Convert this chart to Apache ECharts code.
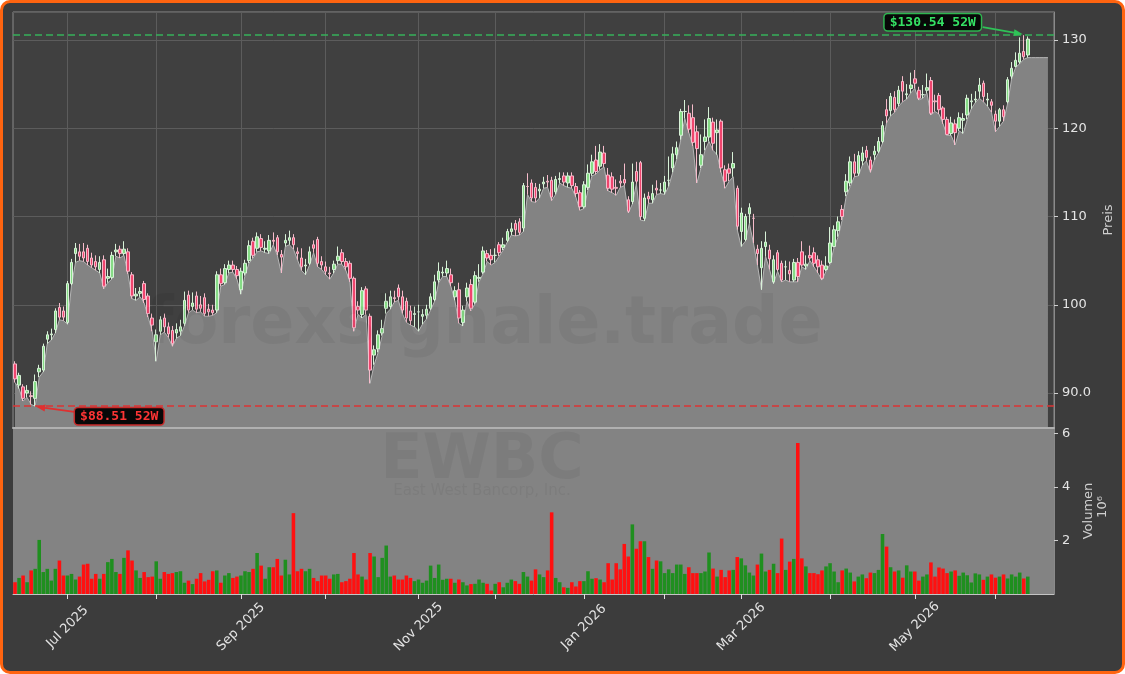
<!DOCTYPE html>
<html><head><meta charset="utf-8">
<script src="https://cdn.jsdelivr.net/npm/echarts@6/dist/echarts.min.js"></script>
<style>
html,body{margin:0;padding:0;background:#fff;}
#frame{position:absolute;left:0;top:0;width:1125px;height:674px;box-sizing:border-box;border:3px solid #ff6410;border-radius:10px;background:#3c3c3c;}
#chart{position:absolute;left:0;top:0;width:1125px;height:674px;}
</style></head><body>
<div id="frame"></div><div id="chart"></div>
<script>
// ---- categories ----
const startDate = '2025-06-11';
const holidays = ['2025-06-19','2025-07-04','2025-09-01','2025-11-27','2025-12-25','2026-01-01','2026-01-19','2026-02-16','2026-04-03','2026-05-25','2026-06-19'];
const categoryCount = 258;
const monthNames = ['Jan','Feb','Mar','Apr','May','Jun','Jul','Aug','Sep','Oct','Nov','Dec'];

// ---- series values ----
const opens = [
93.3,90.9,90.7,90.0,89.7,89.4,92.4,92.6,96.1,96.6,
97.2,99.7,99.3,98.0,102.4,105.8,106.0,106.0,106.4,105.3,
104.9,104.0,105.1,103.0,103.1,106.0,106.3,105.8,106.0,103.4,
101.0,101.3,102.4,101.0,98.5,95.8,97.0,98.5,97.5,97.1,
96.8,97.0,97.9,101.1,99.8,101.0,100.0,100.8,99.5,99.4,
99.4,103.4,102.5,104.0,104.5,104.0,101.7,103.6,105.0,107.2,
106.4,107.5,106.3,106.1,107.3,107.6,105.7,107.0,107.3,107.6,
106.0,105.3,104.4,104.7,106.8,107.4,104.9,104.3,103.6,104.0,
105.0,105.9,104.9,104.7,103.0,99.8,98.9,101.8,98.7,94.3,
95.0,96.8,99.6,99.8,100.8,101.9,100.9,100.4,99.3,98.9,
99.2,98.7,98.8,99.6,100.6,102.8,103.6,103.6,103.4,100.9,
101.7,98.0,100.9,102.3,100.3,103.0,103.7,105.8,105.6,105.6,
106.8,106.5,107.3,108.3,109.2,109.4,108.7,113.4,113.8,113.3,
112.9,113.7,114.0,114.1,112.8,114.2,114.6,113.8,114.6,113.4,
112.7,111.1,113.3,114.9,116.4,115.7,117.2,114.7,114.5,113.3,
114.0,114.2,111.9,111.7,115.1,116.1,109.8,112.3,111.9,113.2,
113.0,112.8,114.1,115.5,117.0,119.2,121.9,121.7,121.2,119.6,
115.8,118.5,119.0,120.7,119.5,120.8,115.3,115.4,115.5,113.2,
108.3,107.4,110.3,109.8,106.3,104.2,106.6,106.2,102.6,105.9,
104.7,104.3,103.9,102.8,104.8,106.0,104.4,105.6,105.9,105.1,
104.5,104.0,104.8,106.6,108.4,110.8,112.8,113.8,116.2,114.9,
116.3,117.5,116.4,117.0,117.4,118.5,122.1,122.0,123.5,122.8,
125.3,123.8,124.5,125.6,124.3,123.8,124.3,125.4,123.1,123.7,
122.3,121.0,119.4,120.5,120.0,120.9,121.5,123.0,123.2,124.2,
125.1,123.2,123.0,121.6,120.8,122.1,123.0,125.9,127.0,127.5,
128.7,128.3];
const closes = [
91.6,92.0,89.4,90.3,89.6,91.3,92.8,95.3,96.6,96.7,
99.3,98.6,98.6,102.4,104.8,106.4,105.5,105.3,104.9,104.5,
104.3,104.8,102.1,103.2,105.6,106.2,105.8,106.3,103.8,101.0,
101.2,101.5,100.6,99.0,97.7,96.6,98.3,97.5,96.7,95.6,
97.2,97.5,100.5,99.4,100.2,99.5,99.6,99.0,99.2,99.1,
103.4,102.4,104.1,104.5,104.0,103.3,103.8,104.7,106.7,105.6,
107.7,106.5,106.4,107.3,107.2,106.0,105.4,107.3,107.6,106.8,
105.8,104.3,104.5,106.0,106.4,104.7,104.5,103.8,103.5,104.6,
105.5,104.9,104.3,103.0,97.4,99.4,101.6,99.4,92.6,94.9,
96.6,97.3,100.4,100.9,100.7,100.9,99.4,98.5,98.2,99.0,
99.2,98.9,99.5,100.9,102.6,103.8,103.7,104.1,102.5,101.6,
98.5,99.4,101.9,99.6,103.3,103.1,106.1,105.3,105.1,105.6,
105.9,106.8,108.3,108.6,108.5,108.2,113.5,113.4,112.1,112.1,
113.1,113.9,113.9,112.2,114.2,114.3,113.9,114.6,113.5,112.6,
111.1,113.6,114.9,116.2,115.1,117.3,116.0,113.2,113.1,113.2,
113.8,113.8,110.6,113.9,114.0,110.0,112.1,112.0,112.6,113.0,
113.0,113.9,114.1,117.1,117.8,121.9,121.9,119.9,118.4,117.7,
117.0,119.0,121.1,118.3,119.8,115.5,114.0,114.9,116.0,108.9,
110.4,110.0,111.0,109.8,105.8,106.4,107.1,105.2,105.1,104.0,
102.8,104.3,103.5,104.8,103.2,104.5,104.6,105.3,104.7,104.3,
103.0,104.4,107.0,108.5,109.4,110.0,114.0,116.2,114.9,116.9,
117.2,116.7,115.3,117.4,118.5,120.3,121.4,123.6,122.1,124.3,
124.2,123.9,124.9,125.1,123.4,123.8,124.6,121.7,123.0,122.1,
121.0,119.3,120.6,119.5,121.2,121.1,123.4,123.1,123.3,124.9,
123.6,123.3,122.6,120.8,122.1,121.3,125.5,126.8,127.7,128.5,
128.1,130.1];
const highs = [
93.6,92.3,91.0,90.9,90.2,92.1,93.2,95.6,97.0,97.3,
99.6,100.2,99.8,102.7,105.2,107.0,106.9,107.0,106.8,105.9,
105.6,105.5,105.6,104.1,106.0,106.9,106.7,107.2,106.4,103.7,
101.9,102.0,102.7,101.3,99.0,97.2,98.7,99.0,98.0,97.6,
97.9,98.3,101.5,101.6,101.4,101.5,101.0,101.3,100.1,100.0,
103.8,104.1,104.6,105.0,105.0,104.4,104.2,105.1,107.3,107.6,
108.2,108.0,107.2,107.9,108.2,107.9,106.2,108.0,108.4,108.0,
106.5,106.4,105.2,106.6,107.3,107.7,105.5,104.9,104.3,105.0,
106.6,106.3,105.3,105.0,103.2,100.4,102.0,102.1,99.0,95.4,
97.1,98.3,101.3,101.6,101.6,102.3,101.6,100.8,99.9,99.8,
100.0,99.5,100.0,101.3,103.4,104.8,104.3,105.0,104.1,102.1,
102.5,99.9,102.5,102.9,103.8,104.6,106.6,106.2,106.3,106.4,
107.1,107.6,108.6,109.3,109.6,109.8,113.8,114.9,114.2,113.8,
113.7,114.5,114.7,114.5,114.6,115.0,115.0,115.0,115.0,113.8,
113.0,114.0,115.9,117.0,118.0,118.2,118.0,115.5,115.0,114.2,
114.7,116.0,112.3,116.0,116.2,116.3,112.6,112.8,113.6,114.1,
113.8,114.6,116.8,117.9,118.5,122.2,123.2,122.6,122.7,120.3,
119.3,121.0,122.4,121.2,121.0,121.0,115.8,116.0,117.3,113.5,
111.0,110.3,111.5,110.3,106.8,107.2,108.3,106.8,105.6,106.2,
105.0,105.0,104.9,105.2,105.3,107.2,105.6,106.7,106.5,105.6,
105.0,105.5,108.8,109.0,110.0,111.3,114.8,116.8,117.1,117.4,
117.9,118.0,116.8,118.0,119.0,120.8,123.3,124.0,124.2,124.8,
125.9,125.0,126.3,126.6,124.7,124.9,126.2,125.8,123.8,124.0,
122.5,121.3,121.3,121.0,121.8,121.7,123.8,123.9,124.2,125.7,
125.4,124.0,123.3,122.0,122.3,122.6,125.8,127.5,128.6,130.3,
130.54,130.4];
const lows = [
91.2,90.5,89.1,89.5,88.7,88.51,91.8,92.4,95.6,96.0,
96.8,98.3,98.2,97.8,102.2,104.8,105.0,104.9,104.5,104.2,
103.9,103.6,101.8,102.5,102.9,105.5,105.3,105.6,103.5,100.7,
100.5,100.9,100.2,98.6,97.0,93.6,96.6,96.9,96.3,95.3,
96.2,96.5,97.6,99.1,99.4,99.1,99.2,98.7,98.7,98.8,
99.1,102.1,102.3,103.6,103.7,102.9,101.2,103.3,104.7,105.3,
106.0,106.1,105.9,105.8,106.8,105.6,103.6,106.6,106.8,106.3,
105.1,103.9,103.4,104.5,105.9,104.3,104.0,103.4,102.9,103.6,
104.6,104.6,103.9,102.6,97.0,98.9,98.5,98.9,91.1,93.2,
94.6,96.5,99.0,99.5,100.3,100.5,99.0,98.0,97.7,97.5,
97.0,97.8,98.4,99.4,100.4,102.5,103.2,103.2,102.1,100.5,
97.9,97.6,100.4,99.3,100.1,102.6,103.5,104.9,104.5,104.8,
105.5,106.2,107.1,107.9,107.8,107.9,108.3,112.5,111.7,111.6,
112.1,113.2,113.3,111.8,112.5,113.8,113.5,113.3,113.2,112.2,
110.7,110.9,113.0,114.6,114.8,115.3,115.6,112.9,112.7,112.4,
113.3,113.5,110.4,111.4,113.7,109.6,109.5,111.5,111.5,112.5,
112.6,112.5,113.4,115.0,116.5,118.7,121.1,119.5,118.0,113.8,
115.5,117.5,118.5,117.5,117.0,115.0,113.2,114.0,114.5,108.5,
106.6,107.2,109.2,107.0,104.5,101.7,105.5,104.0,102.4,103.8,
102.6,102.8,102.6,102.6,102.6,104.3,104.0,105.0,104.3,103.6,
102.8,103.8,104.6,106.5,107.7,109.6,112.3,113.4,114.5,114.6,
115.8,116.3,115.0,116.4,117.2,118.3,120.6,121.4,121.8,122.5,
123.0,123.3,124.0,124.5,123.2,123.4,124.0,121.5,121.9,121.6,
120.5,119.2,119.2,118.1,119.7,119.4,121.0,122.2,122.9,123.4,
123.0,122.5,121.8,119.6,120.2,120.8,122.8,125.6,126.9,127.3,
127.8,128.0];
const areaTail = [128.0,128.0,128.0,128.0,128.0];
const volumes = [
0.44,0.60,0.69,0.44,0.88,0.94,2.02,0.82,0.94,0.50,
0.94,1.25,0.69,0.69,0.75,0.54,0.65,1.10,1.13,0.57,
0.75,0.57,0.75,1.19,1.31,0.82,0.75,1.35,1.63,1.25,
0.88,0.60,0.82,0.63,0.65,1.22,0.57,0.82,0.75,0.78,
0.82,0.85,0.42,0.50,0.37,0.57,0.78,0.47,0.53,0.85,
0.88,0.42,0.69,0.78,0.60,0.65,0.69,0.85,0.82,0.94,
1.53,1.06,0.57,1.00,1.00,1.31,0.69,1.28,0.73,3.02,
0.85,0.94,0.85,0.94,0.60,0.48,0.69,0.69,0.57,0.73,
0.75,0.44,0.48,0.57,1.53,0.73,0.65,0.54,1.53,1.40,
0.63,1.35,1.81,0.65,0.69,0.54,0.54,0.69,0.60,0.48,
0.54,0.42,0.50,1.06,0.60,1.10,0.53,0.57,0.57,0.42,
0.54,0.44,0.32,0.37,0.38,0.54,0.42,0.38,0.13,0.38,
0.44,0.25,0.42,0.54,0.48,0.38,0.82,0.65,0.50,0.92,
0.73,0.63,0.88,3.05,0.60,0.44,0.25,0.23,0.44,0.28,
0.48,0.48,0.85,0.57,0.59,0.54,0.44,1.15,0.54,1.15,
0.92,1.87,1.40,2.60,1.69,1.97,1.97,1.38,0.94,1.25,
1.22,0.78,0.92,0.78,1.10,1.10,0.75,1.00,0.78,0.78,
0.78,0.84,1.55,0.95,0.65,0.90,0.63,0.88,0.90,1.38,
1.33,1.07,0.80,0.69,1.10,1.51,0.84,0.90,1.13,0.78,
2.07,0.90,1.21,1.31,5.64,1.33,1.03,0.78,0.78,0.74,
0.88,1.03,1.15,0.84,0.44,0.88,0.95,0.80,0.47,0.65,
0.73,0.59,0.80,0.78,0.90,2.24,1.77,1.00,0.84,0.88,
0.61,1.07,0.84,0.84,0.50,0.65,0.73,1.18,0.65,0.99,
0.95,0.78,0.84,0.88,0.68,0.80,0.70,0.43,0.77,0.73,
0.53,0.65,0.73,0.61,0.65,0.73,0.58,0.73,0.65,0.80,
0.58,0.65];
const high52 = 130.54, high52Index = 250;
const low52 = 88.51, low52Index = 5;
const priceTicks = [90, 100, 110, 120, 130];

// ---- build categories ----
function tradingDays(start, n) {
  const out = []; const d = new Date(start + 'T00:00:00Z');
  while (out.length < n) {
    const wd = d.getUTCDay(); const s = d.toISOString().slice(0, 10);
    if (wd !== 0 && wd !== 6 && holidays.indexOf(s) < 0) out.push(s);
    d.setUTCDate(d.getUTCDate() + 1);
  }
  return out;
}
const dates = tradingDays(startDate, categoryCount);
const isMonthStart = dates.map((s, i) => i > 0 && s.slice(5, 7) !== dates[i - 1].slice(5, 7));
const isLabeled = dates.map((s, i) => isMonthStart[i] && (+s.slice(5, 7)) % 2 === 1);
const monthLines = [];
isMonthStart.forEach((m, i) => { if (m) monthLines.push({ xAxis: i }); });

const UP_VOL = '#1f8f1f', DOWN_VOL = '#ff1010';
const FONT = '"DejaVu Sans", sans-serif';
const TXT = '#e4e4e4';
const WM = 'rgba(0,0,0,0.05)';

const chart = echarts.init(document.getElementById('chart'), null, { renderer: 'canvas' });
const option = {
  backgroundColor: 'transparent',
  animation: false,
  grid: [
    { left: 13, top: 12, width: 1041, height: 416, show: true, backgroundColor: '#404040', borderColor: '#8a8a8a', borderWidth: 1, containLabel: false },
    { left: 13, top: 428, width: 1041, height: 166, show: true, backgroundColor: '#838383', borderWidth: 0, containLabel: false }
  ],
  xAxis: [
    { type: 'category', gridIndex: 0, data: dates, boundaryGap: true, z: 10,
      axisLine: { show: true, lineStyle: { color: '#b0b0b0', width: 2 } },
      axisTick: { show: false }, axisLabel: { show: false }, splitLine: { show: false } },
    { type: 'category', gridIndex: 1, data: dates, boundaryGap: true, z: 10,
      axisLine: { show: true, lineStyle: { color: '#c4c4c4', width: 1 } },
      axisTick: { show: true, alignWithLabel: true, length: 5, interval: (i) => isMonthStart[i], lineStyle: { color: '#e0e0e0' } },
      axisLabel: { show: true, interval: (i) => isLabeled[i], rotate: 45, align: 'center', verticalAlign: 'middle', margin: 33,
        color: TXT, fontSize: 13, fontFamily: FONT,
        formatter: (v) => monthNames[+v.slice(5, 7) - 1] + ' ' + v.slice(0, 4) },
      splitLine: { show: false } }
  ],
  yAxis: [
    { type: 'value', gridIndex: 0, position: 'right', min: 86.04, max: 133.17,
      axisLine: { show: true, lineStyle: { color: '#8a8a8a' } },
      axisTick: { show: true, length: 4, lineStyle: { color: '#d0d0d0' } },
      axisLabel: { color: TXT, fontSize: 13, fontFamily: FONT, margin: 8, showMinLabel: false, showMaxLabel: false,
        formatter: (v) => priceTicks.indexOf(v) < 0 ? '' : (v === 90 ? '90.0' : String(v)) },
      splitLine: { show: true, lineStyle: { color: '#5c5c5c', width: 1 } },
      name: 'Preis', nameLocation: 'middle', nameGap: 48, nameRotate: 90,
      nameTextStyle: { color: '#cfcfcf', fontSize: 13, fontFamily: FONT } },
    { type: 'value', gridIndex: 1, position: 'right', min: 0, max: 6.2, interval: 2,
      axisLine: { show: true, lineStyle: { color: '#8a8a8a' } },
      axisTick: { show: true, length: 4, lineStyle: { color: '#d0d0d0' } },
      axisLabel: { color: TXT, fontSize: 13, fontFamily: FONT, margin: 8, showMinLabel: false, showMaxLabel: false },
      splitLine: { show: false },
      name: 'Volumen', nameLocation: 'middle', nameGap: 28, nameRotate: 90,
      nameTextStyle: { color: '#cfcfcf', fontSize: 13, fontFamily: FONT } }
  ],
  series: [
    { type: 'line', name: 'grid', xAxisIndex: 0, yAxisIndex: 0, data: dates.map(() => null), z: 1, silent: true,
      symbol: 'none', lineStyle: { opacity: 0 },
      markLine: { z: 1, silent: true, symbol: ['none', 'none'], label: { show: false }, animation: false,
        lineStyle: { color: '#5c5c5c', width: 1, type: 'solid' }, data: monthLines } },
    { type: 'line', name: 'area', xAxisIndex: 0, yAxisIndex: 0, data: lows.concat(areaTail), z: 2, silent: true,
      symbol: 'none', showSymbol: false, lineStyle: { color: '#b6b6b6', width: 1 },
      areaStyle: { color: '#838383', opacity: 1, origin: 'start' } },
    { type: 'candlestick', name: 'EWBC', xAxisIndex: 0, yAxisIndex: 0, z: 3, barWidth: 3,
      data: opens.map((o, i) => [o, closes[i], lows[i], highs[i]]),
      itemStyle: { color: '#86dc86', color0: '#f0456e', borderColor: '#d8f2d8', borderColor0: '#f6bccb', borderWidth: 1 },
      markLine: { silent: true, symbol: ['none', 'none'], label: { show: false }, animation: false,
        data: [
          { yAxis: high52, lineStyle: { color: '#36b05a', type: [7, 4], width: 1.5 } },
          { yAxis: low52, lineStyle: { color: '#dc3434', type: [7, 4], width: 1.5 } }
        ] } },
    { type: 'bar', name: 'Volumen', xAxisIndex: 1, yAxisIndex: 1, z: 3, barCategoryGap: '12%',
      data: volumes.map((v, i) => ({ value: v, itemStyle: { color: closes[i] >= opens[i] ? UP_VOL : DOWN_VOL } })) }
  ],
  graphic: [
    { type: 'text', id: 'wm1', x: 484, y: 326, z: 10, silent: true,
      style: { text: 'forexsignale.trade', font: 'bold 65px "DejaVu Sans"', fill: WM, align: 'center', verticalAlign: 'middle' } },
    { type: 'text', id: 'wm2', x: 482, y: 462, z: 10, silent: true,
      style: { text: 'EWBC', font: 'bold 62px "DejaVu Sans"', fill: WM, align: 'center', verticalAlign: 'middle' } },
    { type: 'text', id: 'wm3', x: 482, y: 491, z: 10, silent: true,
      style: { text: 'East West Bancorp, Inc.', font: '15px "DejaVu Sans"', fill: WM, align: 'center', verticalAlign: 'middle' } },
    { type: 'text', id: 'exp', x: 1103, y: 507, rotation: Math.PI / 2, z: 10, silent: true,
      style: { text: '10⁶', font: '13px "DejaVu Sans"', fill: '#cfcfcf', align: 'center', verticalAlign: 'middle' } }
  ]
};
chart.setOption(option);

function arrow(id, x1, y1, x2, y2, color) {
  const ang = Math.atan2(y2 - y1, x2 - x1), L = 9, W = 3.5;
  const bx = x2 - L * Math.cos(ang), by = y2 - L * Math.sin(ang);
  const px = -Math.sin(ang) * W, py = Math.cos(ang) * W;
  return [
    { type: 'line', id: id + 'l', z: 20, silent: true, shape: { x1: x1, y1: y1, x2: bx, y2: by }, style: { stroke: color, lineWidth: 1.8 } },
    { type: 'polygon', id: id + 'h', z: 20, silent: true, shape: { points: [[x2, y2], [bx + px, by + py], [bx - px, by - py]] }, style: { fill: color } }
  ];
}
const hp = chart.convertToPixel({ gridIndex: 0 }, [high52Index, high52]);
const lp = chart.convertToPixel({ gridIndex: 0 }, [low52Index, low52]);
const annos = [
  { type: 'text', id: 'hbox', x: hp[0] - 91, y: hp[1] - 13, z: 21, silent: true,
    style: { text: '$' + high52.toFixed(2) + ' 52W', font: 'bold 13px "DejaVu Sans Mono"', fill: '#35e064',
      backgroundColor: '#080808', borderColor: '#2fb550', borderWidth: 1.5, borderRadius: 3, padding: [2, 5, 1, 5],
      align: 'center', verticalAlign: 'middle' } },
  { type: 'text', id: 'lbox', x: lp[0] + 84, y: lp[1] + 10, z: 21, silent: true,
    style: { text: '$' + low52.toFixed(2) + ' 52W', font: 'bold 13px "DejaVu Sans Mono"', fill: '#ff3535',
      backgroundColor: '#080808', borderColor: '#c82a2a', borderWidth: 1.5, borderRadius: 3, padding: [2, 5, 1, 5],
      align: 'center', verticalAlign: 'middle' } }
].concat(arrow('ha', hp[0] - 41, hp[1] - 8, hp[0] - 1, hp[1] - 1, '#2fc257'))
 .concat(arrow('la', lp[0] + 41, lp[1] + 6, lp[0] + 1, lp[1] + 0.5, '#e03030'));
chart.setOption({ graphic: annos });
</script></body></html>
